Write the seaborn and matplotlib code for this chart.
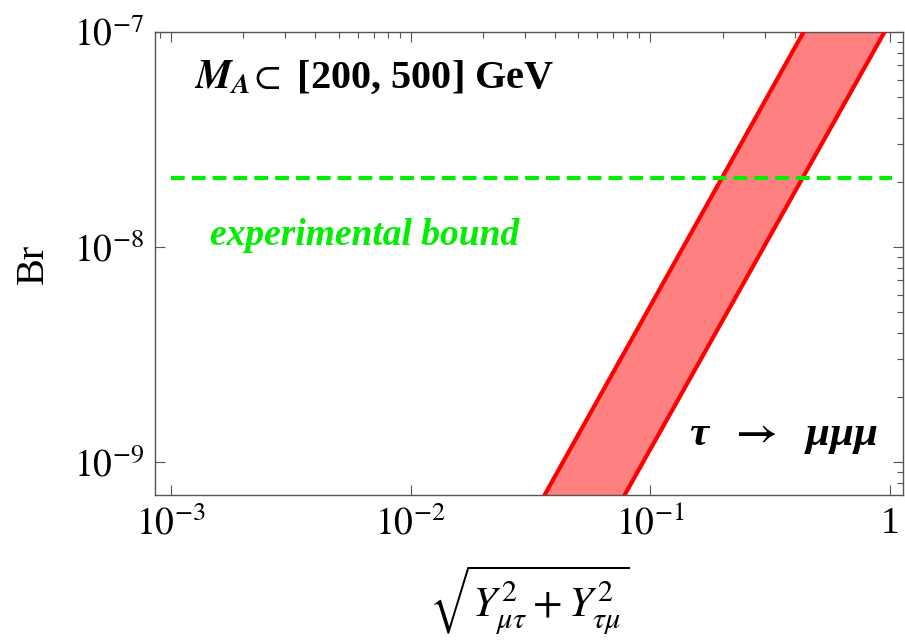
import numpy as np
import pandas as pd
import matplotlib
matplotlib.use("Agg")
import matplotlib.pyplot as plt
import matplotlib.ticker as mticker
import seaborn as sns

# band edges (straight lines on log-log)
br_ends = [7.0e-10, 1.0e-7]
y_left = [0.0361, 0.4355]    # M_A = 200 GeV edge
y_right = [0.0779, 0.948]    # M_A = 500 GeV edge
bound_x = [1.0e-3, 1.02]
bound_br = 2.1e-8
x_ticks = [1e-3, 1e-2, 1e-1, 1.0]
x_ticklabels = [r"$10^{-3}$", r"$10^{-2}$", r"$10^{-1}$", "1"]
y_ticks = [1e-9, 1e-8, 1e-7]
y_ticklabels = [r"$10^{-9}$", r"$10^{-8}$", r"$10^{-7}$"]

sns.set_style("ticks")
plt.rcParams["font.family"] = ["Liberation Serif", "DejaVu Serif"]
plt.rcParams["mathtext.fontset"] = "stix"
plt.rcParams["text.color"] = "black"
plt.rcParams["axes.labelcolor"] = "black"

df = pd.DataFrame({
    "x": y_left + y_right,
    "br": br_ends + br_ends,
    "edge": ["lo", "lo", "hi", "hi"],
})

fig = plt.figure(figsize=(9.05, 6.4), dpi=100)
ax = fig.add_axes([0.1713, 0.2266, 0.8265, 0.7234])
ax.set_xscale("log")
ax.set_yscale("log")

# shaded band
ax.fill(y_left + y_right[::-1], br_ends + br_ends[::-1],
        color="#ff8080", lw=0, zorder=1)
sns.lineplot(data=df, x="x", y="br", units="edge", estimator=None,
             color="#ff0000", lw=3, ax=ax, zorder=3)

# experimental bound
sns.lineplot(x=bound_x, y=[bound_br, bound_br], color="#00ee00", lw=3,
             dashes=False, ax=ax, zorder=4)
ax.lines[-1].set_dashes([3.3, 1.7])

ax.set_xlim(10 ** -3.067, 10 ** 0.054)
ax.set_ylim(10 ** -9.153, 1e-7)

for s in ax.spines.values():
    s.set_color("#555555")
    s.set_linewidth(1.0)

ax.set_xticks(x_ticks, x_ticklabels)
ax.set_yticks(y_ticks, y_ticklabels)
ax.xaxis.set_minor_formatter(mticker.NullFormatter())
ax.yaxis.set_minor_formatter(mticker.NullFormatter())
ax.tick_params(which="both", direction="in", top=True, right=True,
               color="#555555", labelcolor="black", width=0.8,
               labelsize=27, pad=8)
ax.tick_params(which="major", length=7)
ax.tick_params(which="minor", length=4, bottom=False, left=False)

ax.set_xlabel(r"$\sqrt{Y^2_{\mu\tau} + Y^2_{\tau\mu}}$", fontsize=31, labelpad=15)
ax.set_ylabel("Br", fontsize=29, labelpad=16)

ax.text(0.052, 0.9, r"$\mathbfit{M_A}\!\subset$ [200, 500] GeV",
        transform=ax.transAxes, fontsize=29, fontweight="bold",
        ha="left", va="center")
ax.text(0.074, 0.56, "experimental bound", transform=ax.transAxes,
        fontsize=27, fontweight="bold", style="italic", color="#00ee00",
        ha="left", va="center")
ax.text(0.967, 0.125, r"τ  $\mathbf{\rightarrow}$  μμμ", transform=ax.transAxes,
        fontsize=31, fontweight="bold", style="italic",
        ha="right", va="center")

fig.savefig("out.png", dpi=100)
